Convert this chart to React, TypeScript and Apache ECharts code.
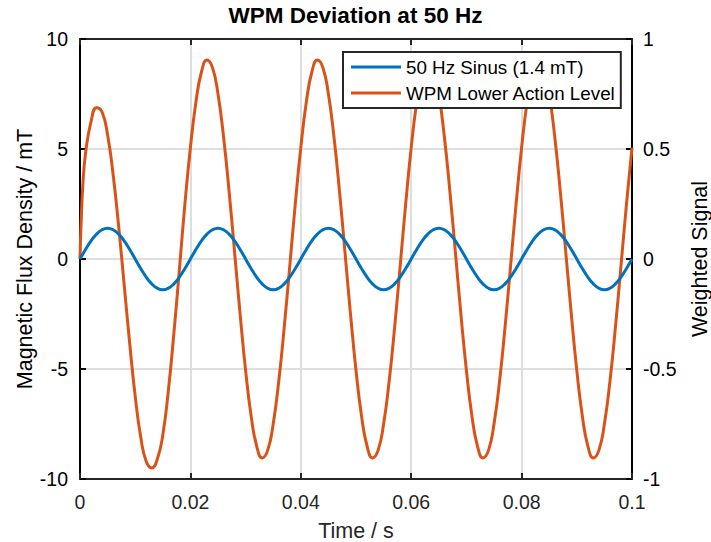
import React, { useEffect, useRef } from 'react';
import * as echarts from 'echarts';

// Sample spacing of both traces (s)
const STEP = 0.001;

// Series names
const sinusName = '50 Hz Sinus (1.4 mT)';
const wpmName = 'WPM Lower Action Level';

// 50 Hz sinus, magnetic flux density (mT), t = 0 … 0.1 s every 1 ms
const sinusValues = [
  0, 0.433, 0.823, 1.133, 1.331, 1.4, 1.331, 1.133, 0.823, 0.433,
  0, -0.433, -0.823, -1.133, -1.331, -1.4, -1.331, -1.133, -0.823, -0.433,
  0, 0.433, 0.823, 1.133, 1.331, 1.4, 1.331, 1.133, 0.823, 0.433,
  0, -0.433, -0.823, -1.133, -1.331, -1.4, -1.331, -1.133, -0.823, -0.433,
  0, 0.433, 0.823, 1.133, 1.331, 1.4, 1.331, 1.133, 0.823, 0.433,
  0, -0.433, -0.823, -1.133, -1.331, -1.4, -1.331, -1.133, -0.823, -0.433,
  0, 0.433, 0.823, 1.133, 1.331, 1.4, 1.331, 1.133, 0.823, 0.433,
  0, -0.433, -0.823, -1.133, -1.331, -1.4, -1.331, -1.133, -0.823, -0.433,
  0, 0.433, 0.823, 1.133, 1.331, 1.4, 1.331, 1.133, 0.823, 0.433,
  0, -0.433, -0.823, -1.133, -1.331, -1.4, -1.331, -1.133, -0.823, -0.433,
  0,
];

// Weighted signal: first points of the start-up transient [t, value]
const wpmEarly: [number, number][] = [
  [0, 0],
  [0.0002, 0.16],
  [0.0005, 0.33],
];

// Weighted signal, t = 0.001 … 0.1 s every 1 ms
const wpmValues = [
  0.48, 0.625, 0.688, 0.668, 0.564, 0.384, 0.149, -0.116, -0.383, -0.623,
  -0.809, -0.921, -0.95, -0.91, -0.8, -0.6, -0.34, -0.05, 0.249, 0.506,
  0.713, 0.85, 0.904, 0.87, 0.75, 0.557, 0.31, 0.032, -0.249, -0.506,
  -0.713, -0.85, -0.904, -0.87, -0.75, -0.557, -0.31, -0.032, 0.249, 0.506,
  0.713, 0.85, 0.904, 0.87, 0.75, 0.557, 0.31, 0.032, -0.249, -0.506,
  -0.713, -0.85, -0.904, -0.87, -0.75, -0.557, -0.31, -0.032, 0.249, 0.506,
  0.713, 0.85, 0.904, 0.87, 0.75, 0.557, 0.31, 0.032, -0.249, -0.506,
  -0.713, -0.85, -0.904, -0.87, -0.75, -0.557, -0.31, -0.032, 0.249, 0.506,
  0.713, 0.85, 0.904, 0.87, 0.75, 0.557, 0.31, 0.032, -0.249, -0.506,
  -0.713, -0.85, -0.904, -0.87, -0.75, -0.557, -0.31, -0.032, 0.249, 0.506,
];

const FONT = '"Liberation Sans", Arial, Helvetica, sans-serif';
const TICK_FS = 19.5;
const NAME_FS = 21.5;

export default function App() {
  const ref = useRef<HTMLDivElement>(null);

  useEffect(() => {
    if (!ref.current) return;
    const chart = echarts.init(ref.current, null, { renderer: 'svg' });

    const sinusData = sinusValues.map((v, i) => [+(i * STEP).toFixed(4), v]);
    const wpmData = [
      ...wpmEarly,
      ...wpmValues.map((v, i) => [+((i + 1) * STEP).toFixed(4), v]),
    ];

    const xFmt = (v: number) => String(+v.toFixed(2));

    chart.setOption({
      animation: false,
      textStyle: { fontFamily: FONT },
      title: {
        text: 'WPM Deviation at 50 Hz',
        left: 'center',
        top: -1,
        textStyle: { fontSize: 22.5, fontWeight: 'bold', color: '#000', fontFamily: FONT },
      },
      legend: {
        orient: 'vertical',
        left: 343,
        top: 52,
        backgroundColor: '#fff',
        borderColor: '#262626',
        borderWidth: 2,
        padding: [5, 5, 5, 8],
        itemGap: 6,
        itemWidth: 50,
        itemHeight: 3,
        icon: 'rect',
        textStyle: { fontSize: 18.8, color: '#000', lineHeight: 20, fontFamily: FONT },
        data: [sinusName, wpmName],
      },
      grid: { left: 80, right: 79, top: 39, bottom: 63, outerBoundsMode: 'none', containLabel: false },
      xAxis: [
        {
          type: 'value',
          position: 'bottom',
          min: 0,
          max: 0.1,
          interval: 0.02,
          name: 'Time / s',
          nameLocation: 'middle',
          nameGap: 41,
          nameMoveOverlap: false,
          nameTextStyle: { fontSize: NAME_FS, color: '#262626', fontFamily: FONT },
          axisLine: { show: true, onZero: false, lineStyle: { color: '#262626', width: 2 } },
          axisTick: { show: true, inside: true, length: 6, lineStyle: { color: '#262626', width: 2 } },
          axisLabel: { margin: 13, fontSize: TICK_FS, color: '#262626', formatter: xFmt, fontFamily: FONT },
          splitLine: { show: true, lineStyle: { color: '#dedede', width: 2 } },
        },
        {
          type: 'value',
          position: 'top',
          min: 0,
          max: 0.1,
          interval: 0.02,
          axisLine: { show: true, onZero: false, lineStyle: { color: '#262626', width: 2 } },
          axisTick: { show: true, inside: true, length: 6, lineStyle: { color: '#262626', width: 2 } },
          axisLabel: { show: false },
          splitLine: { show: false },
        },
      ],
      yAxis: [
        {
          type: 'value',
          position: 'left',
          min: -10,
          max: 10,
          interval: 5,
          name: 'Magnetic Flux Density / mT',
          nameLocation: 'middle',
          nameRotate: 90,
          nameGap: 44,
          nameMoveOverlap: false,
          nameTextStyle: { fontSize: NAME_FS, color: '#000', fontFamily: FONT },
          axisLine: { show: true, onZero: false, lineStyle: { color: '#000', width: 2 } },
          axisTick: { show: true, inside: true, length: 6, lineStyle: { color: '#000', width: 2 } },
          axisLabel: { margin: 12, fontSize: TICK_FS, color: '#000', fontFamily: FONT },
          splitLine: { show: true, lineStyle: { color: '#dedede', width: 2 } },
        },
        {
          type: 'value',
          position: 'right',
          min: -1,
          max: 1,
          interval: 0.5,
          name: 'Weighted Signal',
          nameLocation: 'middle',
          nameRotate: 90,
          nameGap: 57,
          nameMoveOverlap: false,
          nameTextStyle: { fontSize: NAME_FS, color: '#000', fontFamily: FONT },
          axisLine: { show: true, onZero: false, lineStyle: { color: '#000', width: 2 } },
          axisTick: { show: true, inside: true, length: 6, lineStyle: { color: '#000', width: 2 } },
          axisLabel: { margin: 11, fontSize: TICK_FS, color: '#000', fontFamily: FONT },
          splitLine: { show: false },
        },
      ],
      series: [
        {
          name: sinusName,
          type: 'line',
          xAxisIndex: 0,
          yAxisIndex: 0,
          data: sinusData,
          symbol: 'none',
          showSymbol: false,
          smooth: true,
          lineStyle: { color: '#0072BD', width: 3 },
          itemStyle: { color: '#0072BD' },
          z: 3,
        },
        {
          name: wpmName,
          type: 'line',
          xAxisIndex: 0,
          yAxisIndex: 1,
          data: wpmData,
          symbol: 'none',
          showSymbol: false,
          smooth: true,
          lineStyle: { color: '#D95319', width: 3 },
          itemStyle: { color: '#D95319' },
          z: 2,
        },
      ],
    });

    return () => chart.dispose();
  }, []);

  return (
    <div
      ref={ref}
      style={{ position: 'fixed', left: 0, top: 0, width: 711, height: 542, background: '#fff' }}
    />
  );
}
